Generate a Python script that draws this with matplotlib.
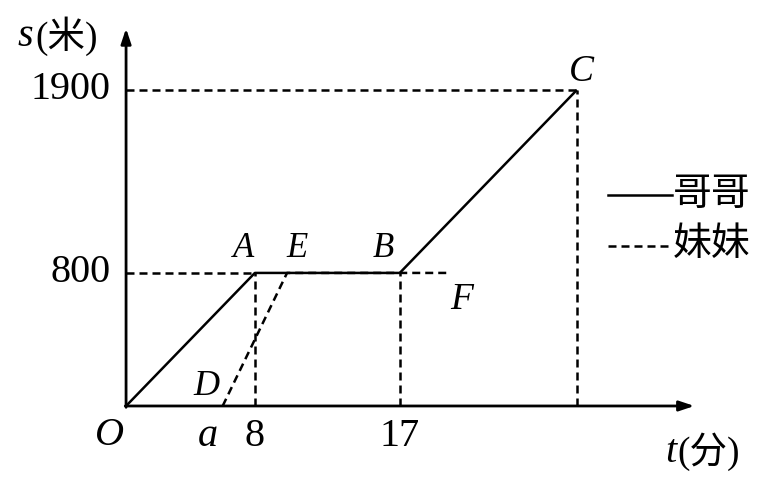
import matplotlib

matplotlib.use("Agg")
import matplotlib.pyplot as plt

# brother (solid) and sister (dashed) distance-time data
bro_t = [0, 8, 17, 28]
bro_s = [0, 800, 800, 1900]
sis_t = [6, 10, 20]
sis_s = [0, 800, 800]

x_ticks = [8, 17]
y_ticks = [800, 1900]
point_names = ["O", "A", "B", "C", "D", "E", "F"]

SERIF = "Liberation Serif"
MIX = [SERIF, "Noto Sans CJK SC"]
LW_AX = 2.0
LW = 1.8
DASH = (0, (3.2, 2.0))

fig = plt.figure(figsize=(7.62, 4.78), dpi=100)
ax = fig.add_axes([0, 0, 1, 1])
ax.set_xlim(-7.83, 39.5)
ax.set_ylim(-433, 2441)
ax.axis("off")

# axes with arrows
ax.annotate("", xy=(35.3, 0), xytext=(-0.05, 0),
            arrowprops=dict(arrowstyle="-|>,head_length=0.9,head_width=0.3",
                            lw=LW_AX, color="black", shrinkA=0, shrinkB=0))
ax.annotate("", xy=(0, 2270), xytext=(0, -8),
            arrowprops=dict(arrowstyle="-|>,head_length=0.9,head_width=0.3",
                            lw=LW_AX, color="black", shrinkA=0, shrinkB=0))

# guide lines
ax.plot([0, bro_t[1]], [bro_s[1], bro_s[1]], color="black", lw=LW, ls=DASH)
ax.plot([0, bro_t[3]], [bro_s[3], bro_s[3]], color="black", lw=LW, ls=DASH)
for t, s in zip(bro_t[1:], bro_s[1:]):
    ax.plot([t, t], [0, s], color="black", lw=LW, ls=DASH)

# sister and brother
ax.plot(sis_t, sis_s, color="black", lw=LW, ls=DASH)
ax.plot(bro_t, bro_s, color="black", lw=LW, solid_capstyle="butt")

# tick labels
for t in x_ticks:
    ax.annotate(str(t), (t, 0), xytext=(0, -9), textcoords="offset points",
                ha="center", va="top", fontsize=29, family=SERIF)
ax.annotate("a", (sis_t[0], 0), xytext=(-11, -9), textcoords="offset points",
            ha="center", va="top", fontsize=29, family=SERIF, style="italic")
for s in y_ticks:
    ax.annotate(str(s), (0, s), xytext=(-11, 0), textcoords="offset points",
                ha="right", va="center", fontsize=29, family=SERIF)

# point labels
pts = {
    "O": ((bro_t[0], bro_s[0]), (-12, -8), 29),
    "A": ((bro_t[1], bro_s[1]), (-8, 6), 25),
    "E": ((sis_t[1], sis_s[1]), (7, 6), 25),
    "B": ((bro_t[2], bro_s[2]), (-12, 6), 25),
    "C": ((bro_t[3], bro_s[3]), (3, 1), 27),
    "D": ((sis_t[0], sis_s[0]), (-12, 2), 26),
    "F": ((sis_t[2], sis_s[2]), (10, -7), 27),
}
for name in point_names:
    xy, off, fs = pts[name]
    ax.annotate(name, xy, xytext=off, textcoords="offset points",
                ha="center", va="bottom" if off[1] > 0 else "top",
                fontsize=fs, family=SERIF, style="italic")

# axis titles
fig.text(18 / 762, 1 - 36 / 478, "s", fontsize=29, family=SERIF,
         style="italic", va="center", ha="left")
fig.text(35 / 762, 1 - 36 / 478, "(米)", fontsize=27, family=MIX,
         va="center", ha="left")
fig.text(665 / 762, 1 - 452 / 478, "t", fontsize=29, family=SERIF,
         style="italic", va="center", ha="left")
fig.text(677 / 762, 1 - 452 / 478, "(分)", fontsize=27, family=MIX,
         va="center", ha="left")

# legend drawn by hand
fig.add_artist(plt.Line2D([608 / 762, 672 / 762], [1 - 195 / 478] * 2,
                          color="black", lw=LW))
fig.add_artist(plt.Line2D([608 / 762, 672 / 762], [1 - 246 / 478] * 2,
                          color="black", lw=LW, ls=DASH))
fig.text(673 / 762, 1 - 195 / 478, "哥哥", fontsize=28, family=MIX,
         va="center", ha="left")
fig.text(673 / 762, 1 - 246 / 478, "妹妹", fontsize=28, family=MIX,
         va="center", ha="left")

fig.savefig("out.png", dpi=100, facecolor="white")
